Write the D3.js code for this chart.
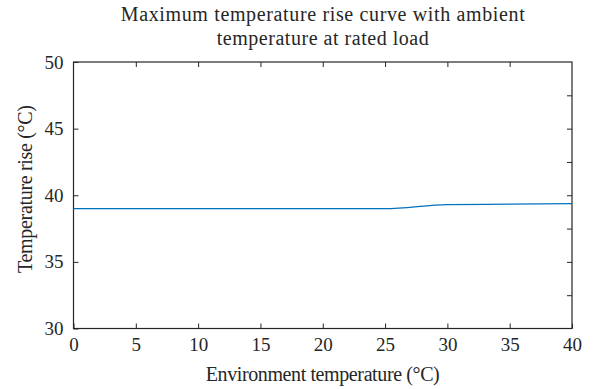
<!DOCTYPE html>
<html>
<head>
<meta charset="utf-8">
<script src="https://cdn.jsdelivr.net/npm/d3@7"></script>
<style>
  html, body { margin: 0; padding: 0; background: #fff; }
  svg { display: block; }
  text { font-family: "Liberation Serif", "Times New Roman", serif; fill: #262626; }
</style>
</head>
<body>
<svg id="chart" width="594" height="389"></svg>
<script>
// Ambient temperature (°C) and the maximum temperature rise (°C) at rated load
const ambientTemp = [0, 5, 10, 15, 20, 25, 30, 35, 40];
const tempRise = [39, 39, 39, 39, 39, 39, 39.3, 39.33, 39.37];

const xTicks = [0, 5, 10, 15, 20, 25, 30, 35, 40];
const yTicks = [30, 35, 40, 45, 50];
const yRightTicks = [32.5, 35, 37.5, 40, 42.5, 45, 47.5];

const titleLines = ["Maximum temperature rise curve with ambient", "temperature at rated load"];
const xLabel = "Environment temperature (°C)";
const yLabel = "Temperature rise (°C)";

const margin = { top: 62, right: 22, bottom: 60.5, left: 73.5 };
const W = 594, H = 389;
const innerW = W - margin.left - margin.right;
const innerH = H - margin.top - margin.bottom;

const svg = d3.select("#chart");
const g = svg.append("g").attr("transform", `translate(${margin.left},${margin.top})`);

const x = d3.scaleLinear().domain([0, 40]).range([0, innerW]);
const y = d3.scaleLinear().domain([30, 50]).range([innerH, 0]);

const axisColor = "#262626";
const tickLen = 5;
const fs = 19;       // tick labels
const fsText = 20;   // title and axis titles

function styleAxis(sel) {
  sel.select(".domain").remove();
  sel.selectAll(".tick line").attr("stroke", axisColor).attr("stroke-width", 1);
  sel.selectAll(".tick text")
    .style("font-family", '"Liberation Serif", serif')
    .style("font-size", fs + "px")
    .attr("fill", axisColor);
}

// Bottom axis: ticks point inward
g.append("g").attr("transform", `translate(0,${innerH})`)
  .call(d3.axisBottom(x).tickValues(xTicks).tickSize(-tickLen).tickPadding(9).tickFormat(d3.format("d")))
  .call(styleAxis);

// Top axis: inward ticks, no labels
g.append("g")
  .call(d3.axisTop(x).tickValues(xTicks.slice(1, -1)).tickSize(-tickLen).tickFormat(""))
  .call(styleAxis);

// Left axis
g.append("g")
  .call(d3.axisLeft(y).tickValues(yTicks).tickSize(-tickLen).tickPadding(10).tickFormat(d3.format("d")))
  .call(styleAxis);

// Right axis: finer inward ticks, no labels
g.append("g").attr("transform", `translate(${innerW},0)`)
  .call(d3.axisRight(y).tickValues(yRightTicks).tickSize(-tickLen).tickFormat(""))
  .call(styleAxis);

// Frame
g.append("rect")
  .attr("x", 0).attr("y", 0).attr("width", innerW).attr("height", innerH)
  .attr("fill", "none").attr("stroke", axisColor).attr("stroke-width", 1.2);

// Curve
const line = d3.line()
  .x((d, i) => x(ambientTemp[i]))
  .y(d => y(d))
  .curve(d3.curveMonotoneX);

g.append("path")
  .datum(tempRise)
  .attr("d", line)
  .attr("fill", "none")
  .attr("stroke", "#0072BD")
  .attr("stroke-width", 1.3);

// Text helper: set width by spacing so wide-set serif text fills its span
function label(sel, txt, width) {
  return sel.append("text")
    .attr("text-anchor", "middle")
    .style("font-size", fsText + "px")
    .attr("textLength", width)
    .attr("lengthAdjust", "spacing")
    .text(txt);
}

// Title
const cx = margin.left + innerW / 2;
label(svg, titleLines[0], 404).attr("x", cx).attr("y", 21);
label(svg, titleLines[1], 212).attr("x", cx).attr("y", 45);

// Axis labels
label(svg, xLabel, 234).attr("x", cx).attr("y", 381);
label(svg, yLabel, 168)
  .attr("transform", `translate(32,189) rotate(-90)`);
</script>
</body>
</html>
